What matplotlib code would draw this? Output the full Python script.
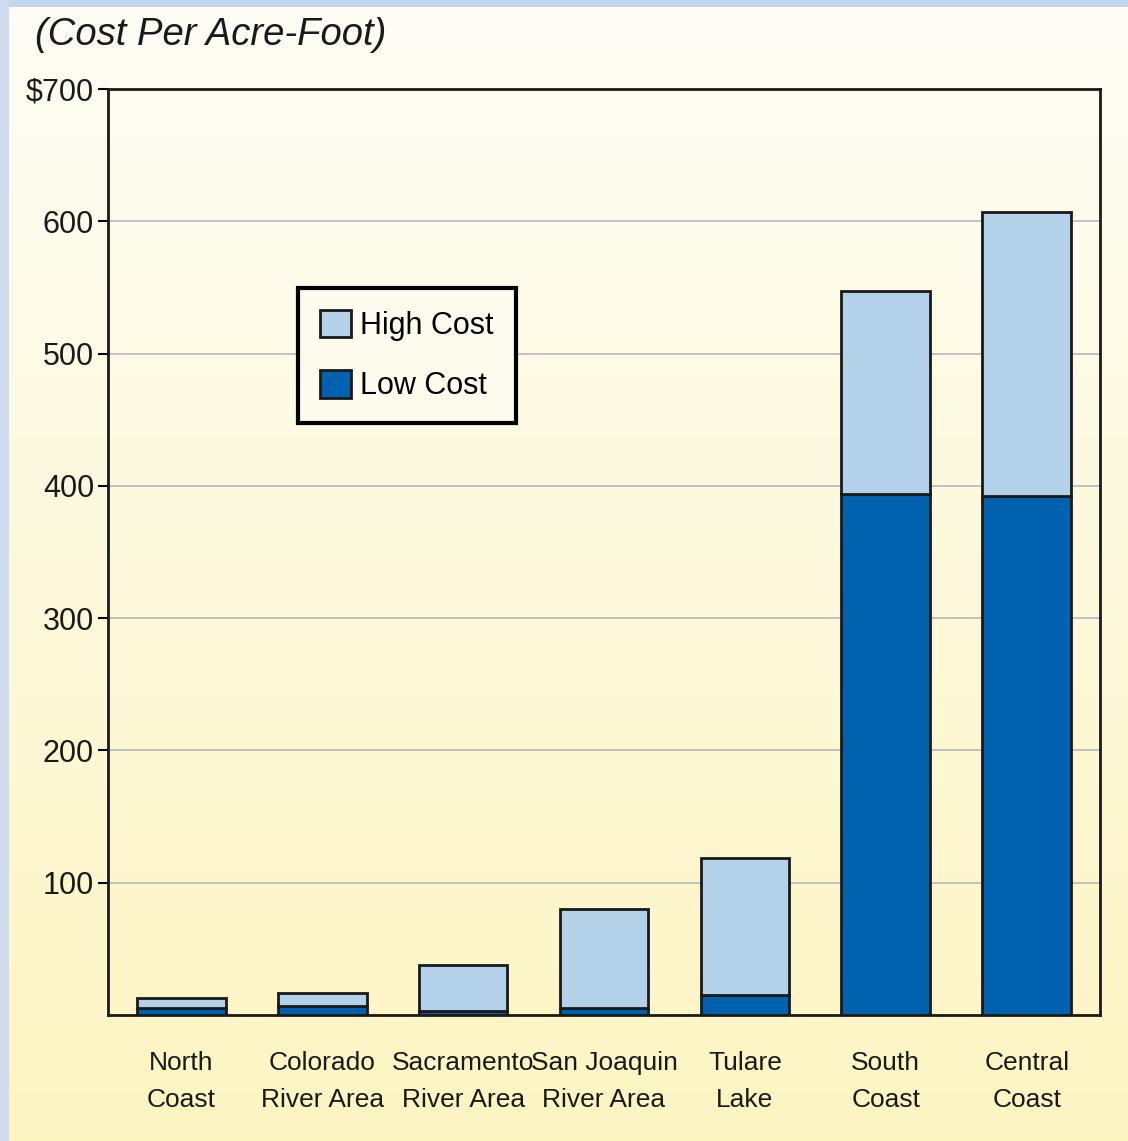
import numpy as np
import matplotlib.pyplot as plt
from matplotlib.patches import Rectangle

regions = ["North\nCoast", "Colorado\nRiver Area", "Sacramento\nRiver Area",
           "San Joaquin\nRiver Area", "Tulare\nLake", "South\nCoast", "Central\nCoast"]
low_cost = [5, 7, 3, 5, 15, 394, 392]
high_cost = [13, 17, 38, 80, 119, 547, 607]
yticks = [100, 200, 300, 400, 500, 600, 700]
ytick_labels = ["100", "200", "300", "400", "500", "600", "$700"]

light_blue = "#b3d1e8"
dark_blue = "#0062af"

plt.rcParams['font.family'] = ['Liberation Sans', 'DejaVu Sans']

fig = plt.figure(figsize=(11.28, 11.41), dpi=100)

# background: white-to-yellow gradient with a light blue frame on top/left
bg = fig.add_axes([0, 0, 1, 1], zorder=-5)
grad = np.linspace(0, 1, 256).reshape(-1, 1)
top_col = np.array([0.995, 0.992, 0.965])
bot_col = np.array([0.992, 0.960, 0.760])
img = top_col + (bot_col - top_col) * grad
bg.imshow(img[:, None, :].repeat(2, axis=1), aspect="auto", extent=[0, 1, 0, 1], origin="upper")
bg.add_patch(Rectangle((0, 1 - 7 / 1141), 1, 7 / 1141, color="#c4d6ee", lw=0))
bg.add_patch(Rectangle((0, 0), 9 / 1128, 1, color="#cfdcf0", lw=0))
bg.set_xlim(0, 1)
bg.set_ylim(0, 1)
bg.axis("off")

ax = fig.add_axes([108 / 1128, 1 - 1015 / 1141, 992 / 1128, 926 / 1141])
ax.set_facecolor("none")

x = np.arange(len(regions))
upper = [h - l for h, l in zip(high_cost, low_cost)]
ax.bar(x, low_cost, width=0.63, color=dark_blue, edgecolor="#1a1a1a", linewidth=2,
       label="Low Cost", zorder=3)
ax.bar(x, upper, width=0.63, bottom=low_cost, color=light_blue, edgecolor="#1a1a1a",
       linewidth=2, label="High Cost", zorder=3)

ax.set_xlim(-0.52, 6.52)
ax.set_ylim(0, 700)
ax.set_yticks(yticks)
ax.set_yticklabels(ytick_labels, fontsize=22, color="#1a1a1a")
ax.yaxis.grid(True, color="#b8b8b8", linewidth=1.2, zorder=0)
ax.tick_params(axis="y", length=7, width=1.5, pad=3)
ax.set_xticks(x)
ax.set_xticklabels(regions, fontsize=19, color="#1a1a1a", linespacing=1.68)
ax.tick_params(axis="x", length=0, pad=26)
for s in ax.spines.values():
    s.set_linewidth(2)
    s.set_color("#1a1a1a")

handles, labels = ax.get_legend_handles_labels()
leg = ax.legend(handles[::-1], labels[::-1], loc="upper left",
                bbox_to_anchor=(0.192, 0.785), fontsize=22, frameon=True,
                fancybox=False, edgecolor="black", facecolor="#fdfbee",
                handlelength=1.0, handleheight=1.0, handletextpad=0.3,
                labelspacing=0.95, borderpad=0.72, borderaxespad=0)
leg.get_frame().set_linewidth(3)
leg.get_frame().set_alpha(1)

fig.text(35 / 1128, 1 - 35 / 1141, "(Cost Per Acre-Foot)", fontsize=27.5,
         style="italic", color="#1a1a1a", va="center", ha="left")

fig.savefig("out.png", dpi=100)
